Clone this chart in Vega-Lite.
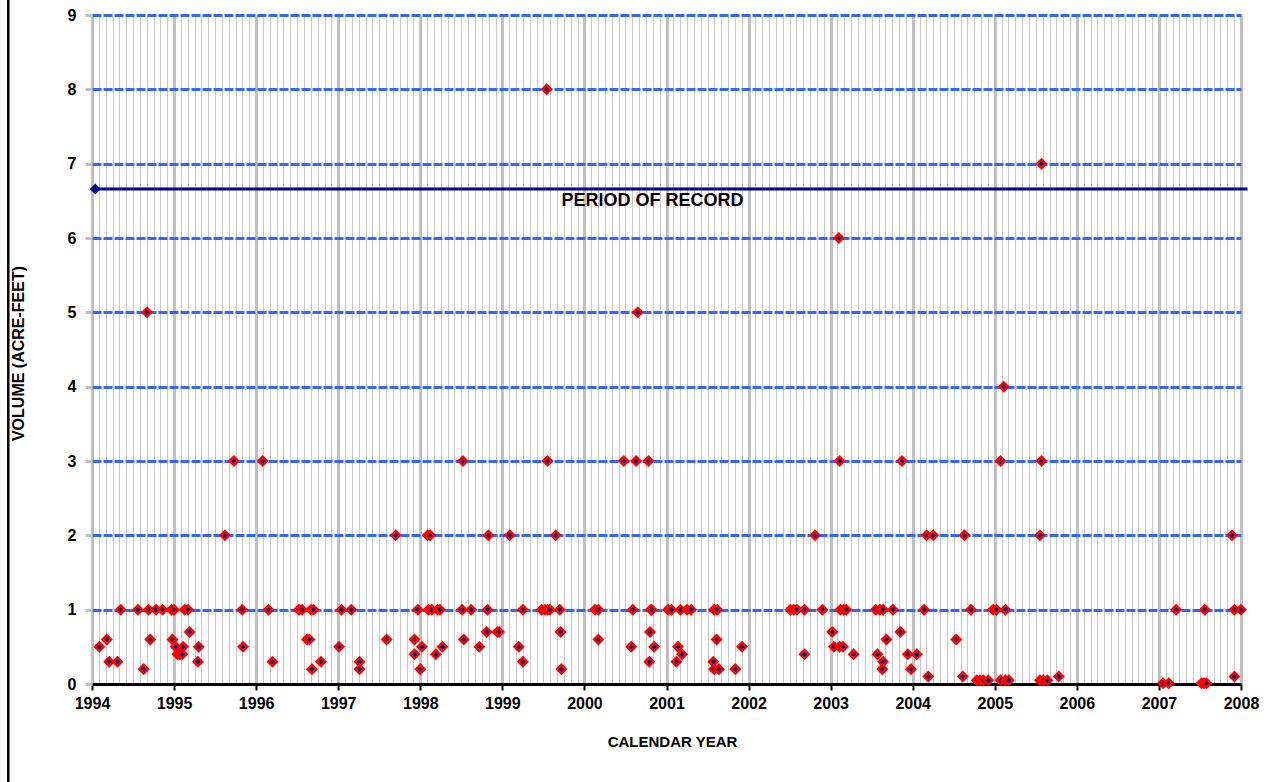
{
  "$schema": "https://vega.github.io/schema/vega-lite/v6.json",
  "width": 1149,
  "height": 669,
  "autosize": {"type": "none"},
  "padding": {"left": 92, "top": 15, "right": 34, "bottom": 98},
  "background": "white",
  "config": {"view": {"stroke": null}, "font": "Liberation Sans"},
  "datasets": {
    "samples": [
      {"year": 1994.09, "volume": 0.5}, {"year": 1994.18, "volume": 0.6}, {"year": 1994.21, "volume": 0.3},
      {"year": 1994.31, "volume": 0.3}, {"year": 1994.35, "volume": 1}, {"year": 1994.56, "volume": 1},
      {"year": 1994.63, "volume": 0.2}, {"year": 1994.67, "volume": 5}, {"year": 1994.69, "volume": 1},
      {"year": 1994.71, "volume": 0.6}, {"year": 1994.78, "volume": 1}, {"year": 1994.86, "volume": 1},
      {"year": 1994.97, "volume": 1}, {"year": 1994.98, "volume": 0.6}, {"year": 1995.0, "volume": 1},
      {"year": 1995.02, "volume": 0.5}, {"year": 1995.04, "volume": 0.4}, {"year": 1995.07, "volume": 0.4},
      {"year": 1995.1, "volume": 0.4}, {"year": 1995.11, "volume": 0.5}, {"year": 1995.13, "volume": 1},
      {"year": 1995.17, "volume": 1}, {"year": 1995.19, "volume": 0.7}, {"year": 1995.29, "volume": 0.3},
      {"year": 1995.3, "volume": 0.5}, {"year": 1995.62, "volume": 2}, {"year": 1995.73, "volume": 3},
      {"year": 1995.83, "volume": 1}, {"year": 1995.84, "volume": 0.5}, {"year": 1996.08, "volume": 3},
      {"year": 1996.15, "volume": 1}, {"year": 1996.2, "volume": 0.3}, {"year": 1996.52, "volume": 1},
      {"year": 1996.56, "volume": 1}, {"year": 1996.62, "volume": 0.6}, {"year": 1996.65, "volume": 0.6},
      {"year": 1996.67, "volume": 1}, {"year": 1996.68, "volume": 0.2}, {"year": 1996.7, "volume": 1},
      {"year": 1996.79, "volume": 0.3}, {"year": 1997.01, "volume": 0.5}, {"year": 1997.04, "volume": 1},
      {"year": 1997.16, "volume": 1}, {"year": 1997.26, "volume": 0.3}, {"year": 1997.26, "volume": 0.2},
      {"year": 1997.59, "volume": 0.6}, {"year": 1997.7, "volume": 2}, {"year": 1997.93, "volume": 0.6},
      {"year": 1997.93, "volume": 0.4}, {"year": 1997.97, "volume": 1}, {"year": 1998.0, "volume": 0.2},
      {"year": 1998.02, "volume": 0.5}, {"year": 1998.09, "volume": 2}, {"year": 1998.1, "volume": 1},
      {"year": 1998.12, "volume": 2}, {"year": 1998.14, "volume": 1}, {"year": 1998.19, "volume": 0.4},
      {"year": 1998.21, "volume": 1}, {"year": 1998.24, "volume": 1}, {"year": 1998.27, "volume": 0.5},
      {"year": 1998.51, "volume": 1}, {"year": 1998.52, "volume": 3}, {"year": 1998.53, "volume": 0.6},
      {"year": 1998.62, "volume": 1}, {"year": 1998.72, "volume": 0.5}, {"year": 1998.81, "volume": 0.7},
      {"year": 1998.82, "volume": 1}, {"year": 1998.83, "volume": 2}, {"year": 1998.94, "volume": 0.7},
      {"year": 1998.96, "volume": 0.7}, {"year": 1999.09, "volume": 2}, {"year": 1999.2, "volume": 0.5},
      {"year": 1999.25, "volume": 1}, {"year": 1999.25, "volume": 0.3}, {"year": 1999.48, "volume": 1},
      {"year": 1999.52, "volume": 1}, {"year": 1999.54, "volume": 8}, {"year": 1999.55, "volume": 3},
      {"year": 1999.55, "volume": 1}, {"year": 1999.58, "volume": 1}, {"year": 1999.65, "volume": 2},
      {"year": 1999.7, "volume": 1}, {"year": 1999.71, "volume": 0.7}, {"year": 1999.72, "volume": 0.2},
      {"year": 2000.13, "volume": 1}, {"year": 2000.17, "volume": 1}, {"year": 2000.17, "volume": 0.6},
      {"year": 2000.48, "volume": 3}, {"year": 2000.57, "volume": 0.5}, {"year": 2000.59, "volume": 1},
      {"year": 2000.63, "volume": 3}, {"year": 2000.65, "volume": 5}, {"year": 2000.78, "volume": 3},
      {"year": 2000.79, "volume": 0.3}, {"year": 2000.8, "volume": 0.7}, {"year": 2000.81, "volume": 1},
      {"year": 2000.82, "volume": 1}, {"year": 2000.85, "volume": 0.5}, {"year": 2001.02, "volume": 1},
      {"year": 2001.06, "volume": 1}, {"year": 2001.12, "volume": 0.3}, {"year": 2001.14, "volume": 0.5},
      {"year": 2001.17, "volume": 1}, {"year": 2001.19, "volume": 0.4}, {"year": 2001.25, "volume": 1},
      {"year": 2001.3, "volume": 1}, {"year": 2001.57, "volume": 0.3}, {"year": 2001.58, "volume": 0.2},
      {"year": 2001.58, "volume": 1}, {"year": 2001.61, "volume": 0.6}, {"year": 2001.62, "volume": 1},
      {"year": 2001.64, "volume": 0.2}, {"year": 2001.84, "volume": 0.2}, {"year": 2001.92, "volume": 0.5},
      {"year": 2002.51, "volume": 1}, {"year": 2002.55, "volume": 1}, {"year": 2002.59, "volume": 1},
      {"year": 2002.68, "volume": 1}, {"year": 2002.68, "volume": 0.4}, {"year": 2002.81, "volume": 2},
      {"year": 2002.9, "volume": 1}, {"year": 2003.02, "volume": 0.7}, {"year": 2003.04, "volume": 0.5},
      {"year": 2003.1, "volume": 6}, {"year": 2003.11, "volume": 3}, {"year": 2003.11, "volume": 0.5},
      {"year": 2003.12, "volume": 1}, {"year": 2003.15, "volume": 0.5}, {"year": 2003.16, "volume": 1},
      {"year": 2003.19, "volume": 1}, {"year": 2003.28, "volume": 0.4}, {"year": 2003.55, "volume": 1},
      {"year": 2003.57, "volume": 0.4}, {"year": 2003.6, "volume": 1}, {"year": 2003.63, "volume": 0.2},
      {"year": 2003.64, "volume": 0.3}, {"year": 2003.64, "volume": 1}, {"year": 2003.68, "volume": 0.6},
      {"year": 2003.76, "volume": 1}, {"year": 2003.85, "volume": 0.7}, {"year": 2003.87, "volume": 3},
      {"year": 2003.94, "volume": 0.4}, {"year": 2003.98, "volume": 0.2}, {"year": 2004.05, "volume": 0.4},
      {"year": 2004.14, "volume": 1}, {"year": 2004.17, "volume": 2}, {"year": 2004.19, "volume": 0.1},
      {"year": 2004.25, "volume": 2}, {"year": 2004.53, "volume": 0.6}, {"year": 2004.61, "volume": 0.1},
      {"year": 2004.63, "volume": 2}, {"year": 2004.71, "volume": 1}, {"year": 2004.78, "volume": 0.05},
      {"year": 2004.82, "volume": 0.05}, {"year": 2004.86, "volume": 0.05}, {"year": 2004.92, "volume": 0.05},
      {"year": 2004.98, "volume": 1}, {"year": 2005.02, "volume": 1}, {"year": 2005.07, "volume": 3},
      {"year": 2005.07, "volume": 0.05}, {"year": 2005.11, "volume": 4}, {"year": 2005.13, "volume": 1},
      {"year": 2005.13, "volume": 0.05}, {"year": 2005.17, "volume": 0.05}, {"year": 2005.55, "volume": 2},
      {"year": 2005.55, "volume": 0.05}, {"year": 2005.57, "volume": 3}, {"year": 2005.57, "volume": 7},
      {"year": 2005.59, "volume": 0.05}, {"year": 2005.64, "volume": 0.05}, {"year": 2005.78, "volume": 0.1},
      {"year": 2007.05, "volume": 0.01}, {"year": 2007.12, "volume": 0.01}, {"year": 2007.21, "volume": 1},
      {"year": 2007.52, "volume": 0.01}, {"year": 2007.55, "volume": 0.01}, {"year": 2007.56, "volume": 1},
      {"year": 2007.58, "volume": 0.01}, {"year": 2007.89, "volume": 2}, {"year": 2007.92, "volume": 1},
      {"year": 2007.92, "volume": 0.1}, {"year": 2008.0, "volume": 1}
    ],
    "period": [
      {"year": 1994.04, "volume": 6.66},
      {"year": 2008.08, "volume": 6.66}
    ],
    "periodLabel": [
      {"year": 2000.83, "volume": 6.5, "text": "PERIOD OF RECORD"}
    ],
    "frame": [
      {"year": 1992.98, "bottom": -1.4, "top": 9.3}
    ]
  },
  "layer": [
    {
      "data": {"name": "period"},
      "mark": {"type": "line", "color": "#000080", "strokeWidth": 3, "clip": false},
      "encoding": {
        "x": {
          "field": "year", "type": "quantitative",
          "scale": {"domain": [1994, 2008], "nice": false, "zero": false},
          "axis": {
            "orient": "top", "labels": false, "ticks": false, "domain": false, "title": null,
            "grid": true, "gridColor": "#c8c8c8", "gridWidth": 1, "gridOpacity": 1,
            "values": [
              1994.0833,1994.1667,1994.25,1994.3333,1994.4167,1994.5,1994.5833,1994.6667,1994.75,1994.8333,1994.9167,
              1995.0833,1995.1667,1995.25,1995.3333,1995.4167,1995.5,1995.5833,1995.6667,1995.75,1995.8333,1995.9167,
              1996.0833,1996.1667,1996.25,1996.3333,1996.4167,1996.5,1996.5833,1996.6667,1996.75,1996.8333,1996.9167,
              1997.0833,1997.1667,1997.25,1997.3333,1997.4167,1997.5,1997.5833,1997.6667,1997.75,1997.8333,1997.9167,
              1998.0833,1998.1667,1998.25,1998.3333,1998.4167,1998.5,1998.5833,1998.6667,1998.75,1998.8333,1998.9167,
              1999.0833,1999.1667,1999.25,1999.3333,1999.4167,1999.5,1999.5833,1999.6667,1999.75,1999.8333,1999.9167,
              2000.0833,2000.1667,2000.25,2000.3333,2000.4167,2000.5,2000.5833,2000.6667,2000.75,2000.8333,2000.9167,
              2001.0833,2001.1667,2001.25,2001.3333,2001.4167,2001.5,2001.5833,2001.6667,2001.75,2001.8333,2001.9167,
              2002.0833,2002.1667,2002.25,2002.3333,2002.4167,2002.5,2002.5833,2002.6667,2002.75,2002.8333,2002.9167,
              2003.0833,2003.1667,2003.25,2003.3333,2003.4167,2003.5,2003.5833,2003.6667,2003.75,2003.8333,2003.9167,
              2004.0833,2004.1667,2004.25,2004.3333,2004.4167,2004.5,2004.5833,2004.6667,2004.75,2004.8333,2004.9167,
              2005.0833,2005.1667,2005.25,2005.3333,2005.4167,2005.5,2005.5833,2005.6667,2005.75,2005.8333,2005.9167,
              2006.0833,2006.1667,2006.25,2006.3333,2006.4167,2006.5,2006.5833,2006.6667,2006.75,2006.8333,2006.9167,
              2007.0833,2007.1667,2007.25,2007.3333,2007.4167,2007.5,2007.5833,2007.6667,2007.75,2007.8333,2007.9167
            ]
          }
        },
        "y": {
          "field": "volume", "type": "quantitative", "title": "VOLUME (ACRE-FEET)",
          "scale": {"domain": [0, 9], "nice": false, "zero": true},
          "axis": {
            "values": [0, 1, 2, 3, 4, 5, 6, 7, 8, 9], "format": "d",
            "domain": false,
            "ticks": true, "tickColor": "#c0c0c0", "tickWidth": 3, "tickSize": 7,
            "labelFontSize": 16, "labelFontWeight": "bold", "labelColor": "black", "labelPadding": 9,
            "labelFont": "Liberation Sans",
            "grid": true, "gridColor": "#3366ff", "gridWidth": 3, "gridDash": [9, 2], "gridOpacity": 1,
            "titleFont": "Liberation Sans", "titleFontSize": 16, "titleFontWeight": "bold", "titleColor": "black",
            "titleX": -74, "titleY": 338, "titleAngle": -90, "titleAlign": "center", "titleBaseline": "middle"
          }
        }
      }
    },
    {
      "data": {"name": "samples"},
      "mark": {"type": "point", "shape": "diamond", "filled": true, "fill": "#000080", "stroke": "#ff0000", "strokeWidth": 2.5, "size": 72, "opacity": 1, "clip": false},
      "encoding": {
        "x": {
          "field": "year", "type": "quantitative",
          "axis": {
            "orient": "bottom",
            "values": [1994, 1995, 1996, 1997, 1998, 1999, 2000, 2001, 2002, 2003, 2004, 2005, 2006, 2007, 2008],
            "format": "d",
            "grid": true, "gridColor": "#c0c0c0", "gridWidth": 3, "gridOpacity": 1,
            "domain": true, "domainColor": "black", "domainWidth": 3,
            "ticks": true, "tickColor": "black", "tickWidth": 2, "tickSize": 6,
            "labelFont": "Liberation Sans", "labelFontSize": 16, "labelFontWeight": "bold", "labelColor": "black",
            "labelPadding": 5, "labelFlush": false, "labelOverlap": false,
            "title": "CALENDAR YEAR",
            "titleFont": "Liberation Sans", "titleFontSize": 15, "titleFontWeight": "bold", "titleColor": "black",
            "titleX": 580, "titleY": 57, "titleBaseline": "middle"
          }
        },
        "y": {"field": "volume", "type": "quantitative", "title": "VOLUME (ACRE-FEET)"}
      }
    },
    {
      "data": {"name": "period"},
      "transform": [{"filter": "datum.year < 2000"}],
      "mark": {"type": "point", "shape": "diamond", "filled": true, "fill": "#000080", "strokeWidth": 0, "size": 121, "opacity": 1, "clip": false},
      "encoding": {
        "x": {"field": "year", "type": "quantitative", "axis": null},
        "y": {"field": "volume", "type": "quantitative", "title": "VOLUME (ACRE-FEET)"}
      }
    },
    {
      "data": {"name": "periodLabel"},
      "mark": {"type": "text", "font": "Liberation Sans", "fontSize": 18, "fontWeight": "bold", "color": "black", "align": "center", "baseline": "middle"},
      "encoding": {
        "x": {"field": "year", "type": "quantitative", "axis": null},
        "y": {"field": "volume", "type": "quantitative", "title": "VOLUME (ACRE-FEET)"},
        "text": {"field": "text"}
      }
    },
    {
      "data": {"name": "frame"},
      "mark": {"type": "rule", "color": "black", "strokeWidth": 2.5, "clip": false},
      "encoding": {
        "x": {"field": "year", "type": "quantitative", "axis": null},
        "y": {"field": "bottom", "type": "quantitative", "title": "VOLUME (ACRE-FEET)"},
        "y2": {"field": "top"}
      }
    }
  ],
  "resolve": {"axis": {"x": "independent"}}
}
